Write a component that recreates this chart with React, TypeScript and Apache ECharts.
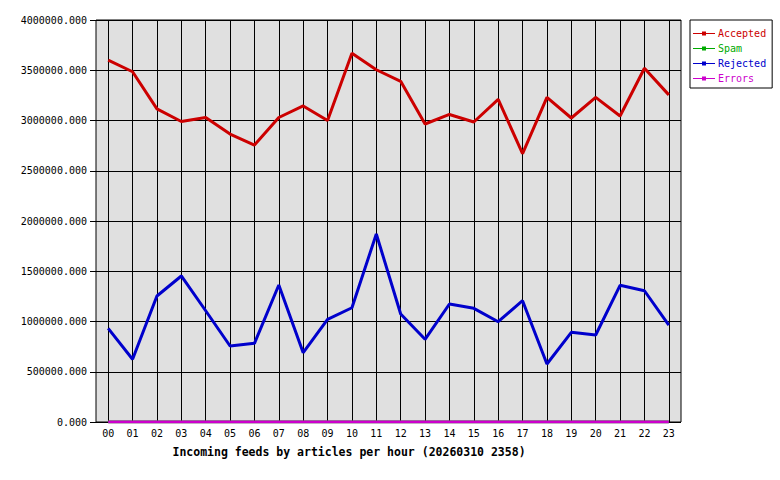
import React, { useEffect, useRef } from "react";
import * as echarts from "echarts";

const hours = ["00","01","02","03","04","05","06","07","08","09","10","11","12","13","14","15","16","17","18","19","20","21","22","23"];
const accepted = [3600000,3485000,3115000,2990000,3030000,2865000,2755000,3030000,3145000,3000000,3670000,3505000,3390000,2965000,3060000,2985000,3210000,2670000,3230000,3025000,3230000,3045000,3520000,3255000];
const spam = [0,0,0,0,0,0,0,0,0,0,0,0,0,0,0,0,0,0,0,0,0,0,0,0];
const rejected = [932000,624000,1254000,1453000,1107000,756000,783000,1363000,690000,1022000,1137000,1871000,1075000,823000,1174000,1131000,998000,1207000,577000,892000,866000,1360000,1306000,965000];
const errors = [0,0,0,0,0,0,0,0,0,0,0,0,0,0,0,0,0,0,0,0,0,0,0,0];
const seriesNames = ["Accepted","Spam","Rejected","Errors"];
const seriesColors = ["#cc0000","#00aa00","#0000cc","#cc00cc"];
const titleText = "Incoming feeds by articles per hour (20260310 2358)";

const MONO = "'DejaVu Sans Mono', 'Liberation Mono', monospace";

export default function App() {
  const ref = useRef<HTMLDivElement>(null);
  useEffect(() => {
    if (!ref.current) return;
    const chart = echarts.init(ref.current, undefined, { renderer: "svg" });
    const values = [accepted, spam, rejected, errors];
    const icon = "path://M0,2.5h9v1h-9z M9,1h4v4h-4z M13,2.5h9v1h-9z";
    chart.setOption({
      animation: false,
      backgroundColor: "#ffffff",
      title: {
        text: titleText,
        left: 344,
        top: 441,
        textAlign: "center",
        textStyle: { fontFamily: MONO, fontSize: 11.5, fontWeight: "bold", color: "#000" },
      },
      legend: {
        orient: "vertical",
        left: 690,
        top: 20,
        width: 82,
        padding: [8, 6, 4, 3],
        itemGap: 4,
        itemWidth: 22,
        itemHeight: 6,
        backgroundColor: "#ffffff",
        borderColor: "#000",
        borderWidth: 1,
        borderRadius: 0,
        data: seriesNames.map((n, i) => ({
          name: n,
          icon,
          itemStyle: { color: seriesColors[i] },
          textStyle: { color: seriesColors[i] },
        })),
        textStyle: { fontFamily: MONO, fontSize: 10, padding: [0, 0, 0, -2], lineHeight: 11 },
      },
      grid: {
        left: 96,
        top: 20,
        width: 585,
        height: 402,
        show: true,
        backgroundColor: "#e0e0e0",
        borderColor: "#000",
        borderWidth: 1,
      },
      xAxis: {
        type: "category",
        data: hours,
        boundaryGap: true,
        axisLine: { show: false },
        axisTick: { show: false, alignWithLabel: true },
        axisLabel: { fontFamily: MONO, fontSize: 10, color: "#000", margin: 6 },
        splitLine: { show: true, alignWithLabel: true, lineStyle: { color: "#000", width: 1 } },
      },
      yAxis: {
        type: "value",
        min: 0,
        max: 4000000,
        interval: 500000,
        axisLine: { show: false },
        axisTick: { show: true, length: 6, lineStyle: { color: "#000" } },
        axisLabel: {
          fontFamily: MONO,
          fontSize: 10,
          color: "#000",
          margin: 9,
          formatter: (v: number) => v.toFixed(3),
        },
        splitLine: { show: true, lineStyle: { color: "#000", width: 1 } },
      },
      series: seriesNames.map((n, i) => ({
        name: n,
        type: "line",
        data: values[i],
        showSymbol: false,
        symbol: "none",
        lineStyle: { color: seriesColors[i], width: 3 },
        itemStyle: { color: seriesColors[i] },
        z: 2 + i,
      })),
    });
    return () => chart.dispose();
  }, []);
  return (
    <div
      ref={ref}
      style={{ position: "fixed", left: 0, top: 0, width: 780, height: 480 }}
    />
  );
}
